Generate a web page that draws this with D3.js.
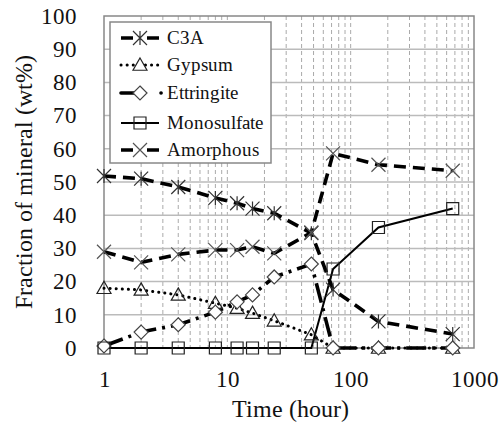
<!DOCTYPE html>
<html>
<head>
<meta charset="utf-8">
<script src="https://cdn.jsdelivr.net/npm/d3@7"></script>
<style>
  @font-face { font-family: "ChartSerif"; src: local("Liberation Serif"), local("LiberationSerif-Regular"), local("Times New Roman"); }
  svg, svg text { font-family: "ChartSerif", "Liberation Serif", "Times New Roman", serif; }
</style>
</head>
<body style="margin:0;background:#fff">
<svg id="chart" width="501" height="425" font-family="Liberation Serif"></svg>
<script>
// Mineral fractions (wt%) over hydration time (hours)
const hours       = [1, 2, 4, 8, 12, 16, 24, 48, 72, 168, 672];
const c3a         = [51.8, 51.0, 48.5, 45.2, 43.6, 42.0, 40.6, 34.6, 17.6, 8.0, 4.2];
const gypsum      = [18.0, 17.5, 16.0, 13.5, 12.0, 10.5, 8.2, 4.0, 0, 0, 0];
const ettringite  = [0.6, 4.8, 7.0, 10.8, 13.9, 16.0, 21.4, 25.3, 0, 0, 0];
const monosulfate = [0, 0, 0, 0, 0, 0, 0, 0, 23.8, 36.3, 42.0];
const amorphous   = [29.0, 25.8, 28.2, 29.5, 29.5, 30.5, 28.5, 34.8, 58.6, 55.2, 53.4];

const seriesNames = ["C3A", "Gypsum", "Ettringite", "Monosulfate", "Amorphous"];
const xTickValues = [1, 10, 100, 1000];
const yTickValues = [0, 10, 20, 30, 40, 50, 60, 70, 80, 90, 100];

const FONT = '"Liberation Serif"';
const svg = d3.select("#chart");
const x = d3.scaleLog().domain([1, 1000]).range([104, 474]);
const y = d3.scaleLinear().domain([0, 100]).range([348, 16]);

// marker shapes, drawn around (0,0)
const markers = {
  asterisk: r => `M${-r},${-r}L${r},${r}M${-r},${r}L${r},${-r}M0,${-r}L0,${r}`,
  cross: r => `M${-r},${-r}L${r},${r}M${-r},${r}L${r},${-r}`,
  triangle: r => `M0,${-r}L${r},${r * 0.75}L${-r},${r * 0.75}Z`,
  diamond: r => `M0,${-r}L${r},0L0,${r}L${-r},0Z`,
  square: r => `M${-r},${-r}H${r}V${r}H${-r}Z`
};

const styles = [
  { values: c3a, dash: "12,7", legendDash: "12,14,12", width: 3.6, cap: "butt", marker: "asterisk", r: 7, fill: "none", mstroke: "#333" },
  { values: gypsum, dash: "0.1,6", legendDash: "0.1,6", width: 3, cap: "round", marker: "triangle", r: 7, fill: "none", mstroke: "#222" },
  { values: ettringite, dash: "20,6,3,6", legendDash: "16,24,0.1,40", width: 3.6, cap: "butt", marker: "diamond", r: 7, fill: "#fff", mstroke: "#444" },
  { values: monosulfate, dash: null, legendDash: null, width: 2, cap: "butt", marker: "square", r: 6, fill: "none", mstroke: "#222" },
  { values: amorphous, dash: "12,7", legendDash: "12,14,12", width: 3.6, cap: "butt", marker: "cross", r: 7, fill: "none", mstroke: "#555" }
];

// grid: dashed verticals at every log step, solid horizontals every 10
const minorX = [];
for (let d = 1; d < 1000; d *= 10) for (let k = 1; k < 10; k++) if (d * k > 1) minorX.push(d * k);
svg.append("g").selectAll("line").data(minorX).join("line")
  .attr("x1", d => x(d)).attr("x2", d => x(d))
  .attr("y1", y(100)).attr("y2", y(0))
  .attr("stroke", "#aaa").attr("stroke-width", 1).attr("stroke-dasharray", "4,3");
svg.append("g").selectAll("line").data(yTickValues.slice(1, -1)).join("line")
  .attr("x1", x(1)).attr("x2", x(1000))
  .attr("y1", d => y(d)).attr("y2", d => y(d))
  .attr("stroke", "#bbb").attr("stroke-width", 1.5);

// plot frame
svg.append("rect")
  .attr("x", x(1)).attr("y", y(100))
  .attr("width", x(1000) - x(1)).attr("height", y(0) - y(100))
  .attr("fill", "none").attr("stroke", "#888").attr("stroke-width", 1.5);

// axes
const xAxis = svg.append("g").attr("transform", `translate(0,${y(0)})`)
  .call(d3.axisBottom(x).tickValues(xTickValues).tickFormat(d3.format("d")).tickSize(0).tickPadding(23));
const yAxis = svg.append("g").attr("transform", `translate(${x(1)},0)`)
  .call(d3.axisLeft(y).tickValues(yTickValues).tickSize(0).tickPadding(27));
[xAxis, yAxis].forEach(g => {
  g.attr("font-family", null).attr("font-size", null);
  g.select(".domain").remove();
  g.selectAll("text").style("font-size", "23px").style("fill", "#111");
});

svg.append("text").attr("x", 290).attr("y", 417).attr("text-anchor", "middle")
  .style("font-size", "24px").style("fill", "#111").text("Time (hour)");
svg.append("text").attr("transform", "translate(32,182) rotate(-90)").attr("text-anchor", "middle")
  .style("font-size", "24px").style("fill", "#111").text("Fraction of mineral (wt%)");

// series
const line = d3.line().x((d, i) => x(hours[i])).y(d => y(d));
styles.forEach(s => {
  svg.append("path").datum(s.values)
    .attr("d", line)
    .attr("fill", "none").attr("stroke", "#000")
    .attr("stroke-width", s.width)
    .attr("stroke-linecap", s.cap)
    .attr("stroke-dasharray", s.dash);
});
styles.forEach(s => {
  svg.append("g").selectAll("path").data(s.values).join("path")
    .attr("transform", (d, i) => `translate(${x(hours[i])},${y(d)})`)
    .attr("d", markers[s.marker](s.r))
    .attr("fill", s.fill).attr("stroke", s.mstroke).attr("stroke-width", 1.2);
});

// legend
const legend = svg.append("g");
legend.append("rect").attr("x", 110).attr("y", 22).attr("width", 161).attr("height", 141)
  .attr("fill", "#fff").attr("stroke", "#888").attr("stroke-width", 1.5);
const rowY = [38, 65, 93, 123, 150];
styles.forEach((s, i) => {
  const g = legend.append("g").attr("transform", `translate(0,${rowY[i]})`);
  g.append("line").attr("x1", 121).attr("x2", s.marker === "diamond" ? 162 : 159).attr("y1", 0).attr("y2", 0)
    .attr("stroke", "#000").attr("stroke-width", s.marker === "diamond" ? 3.6 : s.width)
    .attr("stroke-linecap", s.marker === "diamond" ? "round" : s.cap)
    .attr("stroke-dasharray", s.legendDash);
  g.append("path").attr("transform", "translate(140,0)").attr("d", markers[s.marker](s.r))
    .attr("fill", s.marker === "diamond" || s.marker === "triangle" ? "#fff" : s.fill)
    .attr("stroke", s.mstroke).attr("stroke-width", 1.2);
  g.append("text").attr("x", 167).attr("y", 6)
    .style("font-size", "18.5px").style("fill", "#111")
    .text(seriesNames[i]);
});
</script>
</body>
</html>
